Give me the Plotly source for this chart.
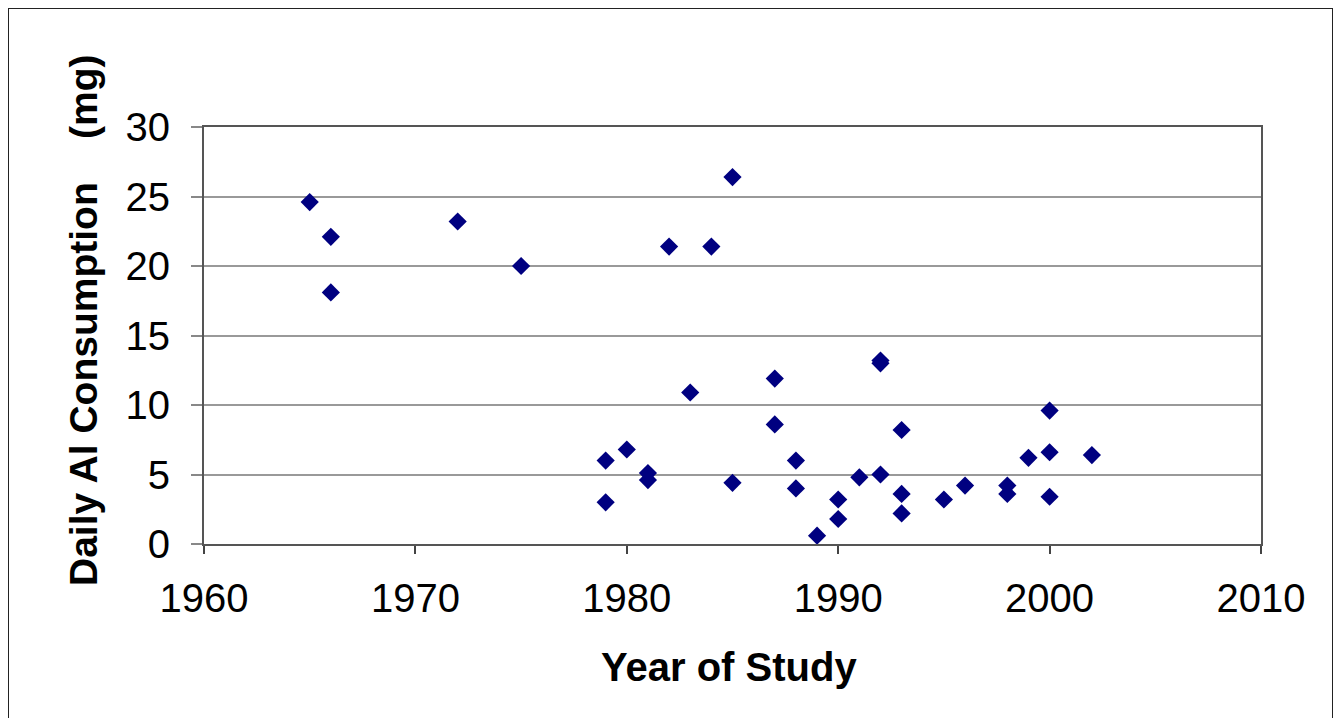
import plotly.graph_objects as go

years = [1965, 1966, 1966, 1972, 1975, 1979, 1979, 1980, 1981, 1981, 1982, 1983, 1984,
         1985, 1985, 1987, 1987, 1988, 1988, 1989, 1990, 1990, 1991, 1992, 1992, 1992,
         1993, 1993, 1993, 1995, 1996, 1998, 1998, 1999, 2000, 2000, 2000, 2002]
al_mg = [24.6, 22.1, 18.1, 23.2, 20.0, 6.0, 3.0, 6.8, 5.1, 4.6, 21.4, 10.9, 21.4,
         26.4, 4.4, 11.9, 8.6, 6.0, 4.0, 0.6, 3.2, 1.8, 4.8, 13.2, 13.0, 5.0,
         8.2, 3.6, 2.2, 3.2, 4.2, 4.2, 3.6, 6.2, 9.6, 6.6, 3.4, 6.4]

x_ticks = [1960, 1970, 1980, 1990, 2000, 2010]
y_ticks = [0, 5, 10, 15, 20, 25, 30]

FONT = "Arial, Liberation Sans, sans-serif"

# page geometry (page has 8px body margin)
PL, PR, PT, PB = 204, 1261, 127, 544
OFF = 8
W, H = 1327, 710
PW, PH = PR - PL, PB - PT

bx0, bx1 = (8 - PL) / PW, (1333 - PL) / PW
by_top, by_bot = (PB - 8) / PH, (PB - 800) / PH
border = dict(color="#222", width=2)

fig = go.Figure()
fig.add_trace(go.Scatter(
    x=years, y=al_mg, mode="markers",
    marker=dict(symbol="diamond", size=14, color="#000080", line=dict(width=0)),
    showlegend=False, hoverinfo="x+y",
))

fig.update_layout(
    width=W, height=H,
    margin=dict(l=PL - OFF, r=W - (PR - OFF), t=PT - OFF, b=H - (PB - OFF)),
    paper_bgcolor="white", plot_bgcolor="white",
    font=dict(family=FONT, color="black"),
    xaxis=dict(
        range=[1960, 2010], tickmode="array", tickvals=x_ticks,
        ticks="outside", ticklen=8, tickwidth=2, tickcolor="#444",
        showgrid=False, zeroline=False,
        showline=True, linecolor="#555", linewidth=2, mirror=True,
        tickfont=dict(size=40, family=FONT, color="black"),
        ticklabelstandoff=10,
    ),
    yaxis=dict(
        range=[0, 30], tickmode="array", tickvals=y_ticks,
        ticks="outside", ticklen=11, tickwidth=2, tickcolor="#888",
        showgrid=True, gridcolor="#999", gridwidth=2, zeroline=False,
        showline=True, linecolor="#555", linewidth=2, mirror=True,
        tickfont=dict(size=40, family=FONT, color="black"),
        ticklabelstandoff=13,
    ),
    annotations=[
        dict(text="<b>Year of Study</b>", xref="paper", yref="paper",
             x=(729 - PL) / PW, y=(PB - 667) / PH, xanchor="center", yanchor="middle",
             showarrow=False, font=dict(size=40, family=FONT, color="black")),
        dict(text="<b>Daily Al Consumption\u00a0\u00a0\u00a0\u00a0(mg)</b>", xref="paper", yref="paper",
             x=(83 - PL) / PW, y=(PB - 320) / PH, xanchor="center", yanchor="middle",
             textangle=-90, showarrow=False, font=dict(size=39, family=FONT, color="black")),
    ],
    shapes=[
        dict(type="line", xref="paper", yref="paper", x0=bx0, x1=bx1, y0=by_top, y1=by_top, line=border),
        dict(type="line", xref="paper", yref="paper", x0=bx0, x1=bx0, y0=by_top, y1=by_bot, line=border),
        dict(type="line", xref="paper", yref="paper", x0=bx1, x1=bx1, y0=by_top, y1=by_bot, line=border),
    ],
)

fig.write_html("out.html")
